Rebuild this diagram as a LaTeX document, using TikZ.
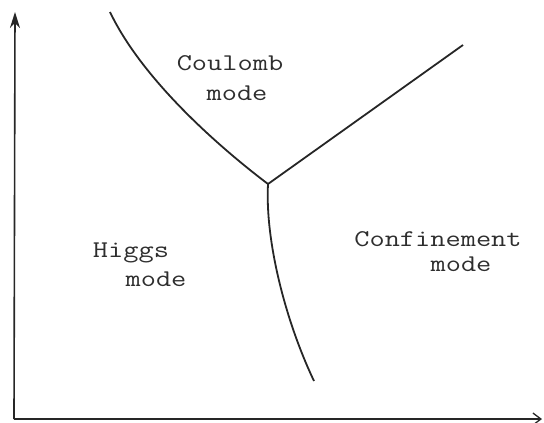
\documentclass[tikz,border=0pt]{standalone}
\usetikzlibrary{arrows.meta}
\begin{document}
\begin{tikzpicture}[x=1pt,y=-1pt,
  axis/.style={line width=1.6pt,draw=black!85},
  border/.style={line width=1.8pt,draw=black!85},
  label/.style={font=\ttfamily\fontsize{24}{26}\selectfont,text=black!82,inner sep=0pt,anchor=base}]
\useasboundingbox (0,0) rectangle (544,423);
% axes
\coordinate (O) at (14,419);
\coordinate (ytop) at (15,12);
\coordinate (xend) at (542,419);
\draw[axis,-{Stealth[length=16pt,width=10pt,inset=5pt]}] (O) -- (ytop);
\draw[axis,-{Straight Barb[length=8pt,width=12pt,line width=1.3pt]}] (O) -- (xend);
% phase boundaries meeting at the triple point
\coordinate (T) at (268,184);
\coordinate (A) at (110,12);
\coordinate (B) at (463,45);
\coordinate (C) at (314,381);
\draw[border] (A) .. controls (140,75) and (210,140) .. (T);
\draw[border] (T) -- (B);
\draw[border] (T) .. controls (265,240) and (285,320) .. (C);
% region labels, typewriter face widened to a 10-pitch look
\newcommand{\tw}[1]{\scalebox{1.23}[1]{#1}}
\node[label] (coul)  at (230,70)  {\tw{Coulomb}};
\node[label] (coulm) at (237,100) {\tw{mode}};
\node[label] (higgs) at (131,257) {\tw{Higgs}};
\node[label] (higgm) at (156,286) {\tw{mode}};
\node[label] (conf)  at (438,246) {\tw{Confinement}};
\node[label] (confm) at (461,271) {\tw{mode}};
\end{tikzpicture}
\end{document}
